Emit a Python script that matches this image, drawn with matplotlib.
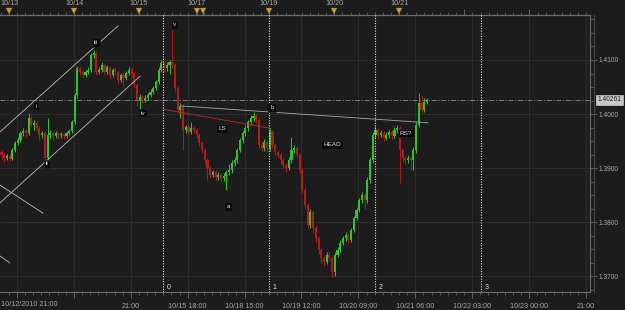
import matplotlib
matplotlib.use("Agg")
import matplotlib.pyplot as plt
import matplotlib.transforms as mtransforms
from matplotlib.ticker import FixedLocator, MultipleLocator, FormatStrFormatter

plt.rcParams["font.family"] = ["Liberation Sans", "DejaVu Sans"]

# hourly candles (bar index 0..157)
first_open = 1.3930
closes = [
    1.3925, 1.3919, 1.3923, 1.3918, 1.3934, 1.3947, 1.3952, 1.3965, 1.3969, 1.3965,
    1.3993, 1.3980, 1.3984, 1.3974, 1.3961, 1.3965, 1.3919, 1.3961, 1.3965, 1.3960,
    1.3965, 1.3961, 1.3963, 1.3960, 1.3965, 1.3969, 1.3986, 1.4035, 1.4085, 1.4078,
    1.4072, 1.4078, 1.4082, 1.4109, 1.4113, 1.4078, 1.4082, 1.4091, 1.4078, 1.4087,
    1.4072, 1.4082, 1.4078, 1.4063, 1.4072, 1.4067, 1.4076, 1.4082, 1.4074, 1.4054,
    1.4026, 1.4032, 1.4026, 1.4030, 1.4035, 1.4041, 1.4048, 1.4059, 1.4082, 1.4095,
    1.4085, 1.4091, 1.4096, 1.4091, 1.4048, 1.4008, 1.4015, 1.3971, 1.3976, 1.3967,
    1.3974, 1.3971, 1.3961, 1.3947, 1.3934, 1.3915, 1.3900, 1.3888, 1.3893, 1.3884,
    1.3888, 1.3882, 1.3886, 1.3893, 1.3897, 1.3910, 1.3915, 1.3934, 1.3952, 1.3965,
    1.3974, 1.3986, 1.3993, 1.3997, 1.3989, 1.3943, 1.3937, 1.3949, 1.3937, 1.3967,
    1.3943, 1.3930, 1.3925, 1.3915, 1.3906, 1.3900, 1.3915, 1.3934, 1.3937, 1.3925,
    1.3897, 1.3860, 1.3832, 1.3795, 1.3819, 1.3790, 1.3771, 1.3749, 1.3734, 1.3727,
    1.3740, 1.3734, 1.3708, 1.3740, 1.3749, 1.3762, 1.3771, 1.3777, 1.3767, 1.3786,
    1.3808, 1.3823, 1.3841, 1.3851, 1.3841, 1.3878, 1.3915, 1.3961, 1.3971, 1.3961,
    1.3965, 1.3956, 1.3961, 1.3967, 1.3960, 1.3971, 1.3974, 1.3934, 1.3919, 1.3915,
    1.3919, 1.3915, 1.3934, 1.3980, 1.4021, 1.4008, 1.4022, 1.40261,
]
highs = [
    1.3934, 1.3928, 1.3927, 1.3926, 1.3937, 1.3950, 1.3958, 1.3969, 1.3974, 1.3972,
    1.4002, 1.3997, 1.3989, 1.3987, 1.3978, 1.3969, 1.3968, 1.3993, 1.3971, 1.3969,
    1.3969, 1.3967, 1.3967, 1.3965, 1.3969, 1.3972, 1.3989, 1.4039, 1.4089, 1.4089,
    1.4082, 1.4082, 1.4087, 1.4113, 1.4119, 1.4115, 1.4087, 1.4096, 1.4093, 1.4091,
    1.4089, 1.4085, 1.4087, 1.4080, 1.4076, 1.4076, 1.4080, 1.4087, 1.4085, 1.4078,
    1.4057, 1.4037, 1.4035, 1.4035, 1.4039, 1.4046, 1.4052, 1.4063, 1.4087, 1.4100,
    1.4098, 1.4096, 1.4100, 1.4159, 1.4095, 1.4052, 1.4021, 1.4019, 1.3980, 1.3980,
    1.3986, 1.3978, 1.3974, 1.3965, 1.3950, 1.3937, 1.3919, 1.3904, 1.3897, 1.3897,
    1.3893, 1.3891, 1.3891, 1.3897, 1.3908, 1.3915, 1.3921, 1.3937, 1.3956, 1.3969,
    1.3980, 1.3989, 1.3999, 1.4004, 1.4000, 1.3993, 1.3949, 1.3954, 1.3952, 1.3974,
    1.3971, 1.3947, 1.3934, 1.3928, 1.3919, 1.3910, 1.3921, 1.3958, 1.3943, 1.3941,
    1.3928, 1.3900, 1.3865, 1.3836, 1.3825, 1.3823, 1.3795, 1.3775, 1.3753, 1.3738,
    1.3745, 1.3745, 1.3738, 1.3745, 1.3755, 1.3767, 1.3775, 1.3782, 1.3780, 1.3790,
    1.3812, 1.3827, 1.3845, 1.3856, 1.3854, 1.3884, 1.3921, 1.3967, 1.3978, 1.3974,
    1.3971, 1.3969, 1.3967, 1.3971, 1.3971, 1.3976, 1.3980, 1.3978, 1.3937, 1.3923,
    1.3925, 1.3923, 1.3939, 1.3986, 1.4039, 1.4035, 1.4030, 1.4030,
]
lows = [
    1.3915, 1.3912, 1.3915, 1.3913, 1.3915, 1.3930, 1.3943, 1.3949, 1.3960, 1.3958,
    1.3962, 1.3976, 1.3971, 1.3969, 1.3952, 1.3956, 1.3912, 1.3915, 1.3956, 1.3952,
    1.3956, 1.3954, 1.3956, 1.3954, 1.3956, 1.3962, 1.3965, 1.3982, 1.4030, 1.4072,
    1.4067, 1.4069, 1.4074, 1.4078, 1.4104, 1.4072, 1.4074, 1.4078, 1.4072, 1.4074,
    1.4065, 1.4069, 1.4072, 1.4057, 1.4059, 1.4050, 1.4063, 1.4072, 1.4069, 1.4048,
    1.4015, 1.4004, 1.4021, 1.4022, 1.4026, 1.4032, 1.4037, 1.4045, 1.4056, 1.4078,
    1.4078, 1.4080, 1.4074, 1.4085, 1.4043, 1.4002, 1.3993, 1.3934, 1.3965, 1.3961,
    1.3963, 1.3965, 1.3956, 1.3941, 1.3928, 1.3908, 1.3878, 1.3882, 1.3884, 1.3878,
    1.3878, 1.3875, 1.3876, 1.3860, 1.3888, 1.3891, 1.3904, 1.3910, 1.3930, 1.3947,
    1.3960, 1.3969, 1.3980, 1.3987, 1.3984, 1.3937, 1.3932, 1.3932, 1.3930, 1.3932,
    1.3937, 1.3925, 1.3919, 1.3908, 1.3900, 1.3893, 1.3897, 1.3910, 1.3928, 1.3919,
    1.3891, 1.3854, 1.3826, 1.3788, 1.3790, 1.3782, 1.3764, 1.3742, 1.3725, 1.3720,
    1.3723, 1.3729, 1.3699, 1.3701, 1.3736, 1.3745, 1.3758, 1.3766, 1.3762, 1.3764,
    1.3782, 1.3804, 1.3819, 1.3836, 1.3825, 1.3836, 1.3873, 1.3910, 1.3956, 1.3954,
    1.3958, 1.3950, 1.3952, 1.3956, 1.3954, 1.3956, 1.3965, 1.3873, 1.3912, 1.3908,
    1.3910, 1.3897, 1.3897, 1.3928, 1.3976, 1.4002, 1.4004, 1.4019,
]
opens = [first_open] + closes[:-1]
last_price = 1.40261

# bottom time axis: a label every 21 bars
bottom_first = 5.7
bottom_labels = ["", "", "21:00", "10/15 18:00", "10/18 15:00", "10/19 12:00",
                 "10/20 09:00", "10/21 06:00", "10/22 03:00", "10/23 00:00", "21:00"]
first_label = "10/12/2010 21:00"

# top date axis (day starts, in bars)
day_pos = [2.8, 26.8, 50.7, 72.1, 74.4, 98.7, 122.7, 146.7, 170.7, 194.7]
day_labels = ["10/13", "10/14", "10/15", "10/17", "", "10/19", "10/20", "10/21", "", ""]
day_marks = [2.8, 26.8, 50.7, 72.1, 74.4, 98.7, 122.7, 146.7]

# fibonacci time lines
fib_time = [59.6, 98.7, 137.8, 176.9]
fib_names = ["0", "1", "2", "3"]
fib_colors = ["#ececec", "#e6e6c8", "#dcdcb0", "#e8e8d8"]

# drawn trend lines: (bar, price) -> (bar, price), colour
trend_lines = [
    ((-0.6, 1.3967), (43.0, 1.4163), "#bdbdbd"),   # channel top
    ((-0.6, 1.3836), (51.1, 1.4070), "#bdbdbd"),   # channel bottom
    ((-0.6, 1.3869), (15.3, 1.3817), "#bdbdbd"),
    ((-0.6, 1.3738), (3.1, 1.3725), "#bdbdbd"),
    ((66.6, 1.4015), (157.4, 1.3984), "#a8a8a8"),  # neckline
    ((59.6, 1.4009), (99.1, 1.3974), "#c02828"),
]

# wave / pattern labels (bar, price, text)
wave_labels = [
    (12.7, 1.4015, "i"), (16.8, 1.3908, "ii"), (34.9, 1.4133, "iii"),
    (52.2, 1.4002, "iv"), (63.7, 1.4165, "v"), (99.8, 1.4013, "b"),
    (81.4, 1.3974, "LS"), (83.6, 1.3830, "a"), (121.9, 1.3943, "HEAD"),
    (149.3, 1.3965, "RS?"),
]

BG = "#1c1c1c"
UP = "#2ec42e"
DOWN = "#b81818"
TXT = "#a8a8a8"
AXC = "#6e6e6e"

fig = plt.figure(figsize=(6.25, 3.1), dpi=100, facecolor=BG)
ax = fig.add_axes([0, 18 / 310, 590 / 625, 277 / 310])
ax.set_facecolor(BG)
ax.set_xlim(-0.554, 217.16)
ax.set_ylim(1.367136, 1.418314)

# grid
ax.grid(True, which="major", color="#303030", lw=0.6)
ax.set_axisbelow(True)

# candles
idx = list(range(len(closes)))
cols = [UP if c >= o else DOWN for o, c in zip(opens, closes)]
ax.vlines(idx, lows, highs, colors=cols, lw=0.7, zorder=3)
bottoms = [min(o, c) for o, c in zip(opens, closes)]
heights = [max(abs(c - o), 0.00006) for o, c in zip(opens, closes)]
ax.bar(idx, heights, bottom=bottoms, width=0.78, color=cols, lw=0, zorder=4)

# last price line
ax.axhline(last_price, color="#8c8c8c", lw=0.6, ls=(0, (6, 2, 1.5, 2)), zorder=2)

# fib time lines
for xv, name, c in zip(fib_time, fib_names, fib_colors):
    ax.axvline(xv, color=c, lw=0.8, ls=(0, (1, 1.3)), zorder=5)
    ax.annotate(name, (xv, 0.018), xycoords=("data", "axes fraction"),
                xytext=(2.5, 0), textcoords="offset points",
                color="#e8e8e8", fontsize=5, va="center", ha="left")

# trend lines
for (x0, y0), (x1, y1), c in trend_lines:
    ax.plot([x0, x1], [y0, y1], color=c, lw=0.6, zorder=6)

# labels
for xv, yv, t in wave_labels:
    ax.text(xv, yv, t, color="#e0e0e0", fontsize=4.6, ha="center", va="center",
            zorder=8, bbox=dict(boxstyle="square,pad=0.3", fc="#0a0a0a",
                                ec="#262626", lw=0.4))

# spines
ax.spines["left"].set_visible(False)
for side in ["right", "bottom", "top"]:
    ax.spines[side].set_color(AXC)
    ax.spines[side].set_linewidth(0.8)

# bottom axis
bt = [bottom_first + 21 * k for k in range(len(bottom_labels))]
ax.set_xticks(bt, bottom_labels)
ax.xaxis.set_minor_locator(FixedLocator([bottom_first - 3 + 3 * k for k in range(0, 73)]))
ax.tick_params(axis="x", which="major", length=4, width=0.6, color=AXC,
               labelcolor=TXT, labelsize=5.2, pad=4)
ax.tick_params(axis="x", which="minor", length=2, width=0.5, color=AXC)
ax.text(0.002, -0.045, first_label, transform=ax.transAxes, color=TXT,
        fontsize=5.2, ha="left", va="center")

# right price axis
ax.yaxis.tick_right()
ax.yaxis.set_major_locator(MultipleLocator(0.01))
ax.yaxis.set_minor_locator(MultipleLocator(0.0025))
ax.yaxis.set_major_formatter(FormatStrFormatter("%.4f"))
ax.tick_params(axis="y", which="major", length=5, width=0.6, color=AXC,
               labelcolor=TXT, labelsize=4.8, pad=1.5)
ax.tick_params(axis="y", which="minor", length=3, width=0.5, color=AXC)
ax.plot([1.0068, 1.0068], [0, 1], transform=ax.transAxes, color="#4a4a4a",
        lw=0.7, clip_on=False)

# current price tag
ptrans = mtransforms.blended_transform_factory(ax.transAxes, ax.transData)
ax.text(1.013, last_price, "%.5f" % last_price, transform=ptrans, color="#202020",
        fontsize=4.8, ha="left", va="center", zorder=10, clip_on=False,
        bbox=dict(boxstyle="square,pad=0.25", fc="#c8c8c8", ec="#e0e0e0", lw=0.4))

# top date axis
top = ax.secondary_xaxis("top")
top.set_xticks(day_pos, day_labels)
top.xaxis.set_minor_locator(FixedLocator([day_pos[0] - 3 + 3 * k for k in range(0, 74)]))
top.tick_params(axis="x", which="major", length=4, width=0.6, color=AXC,
                labelcolor=TXT, labelsize=5.2, pad=2)
top.tick_params(axis="x", which="minor", length=2.5, width=0.5, color=AXC)
top.spines["top"].set_color(AXC)

ttrans = mtransforms.blended_transform_factory(ax.transData, ax.transAxes)
ax.plot(day_marks, [1.0145] * len(day_marks), ls="none", marker="v", ms=4,
        color="#c9a24a", mec="#8a6a20", mew=0.3, transform=ttrans, clip_on=False, zorder=10)

fig.savefig("out.png", dpi=100, facecolor=BG)
